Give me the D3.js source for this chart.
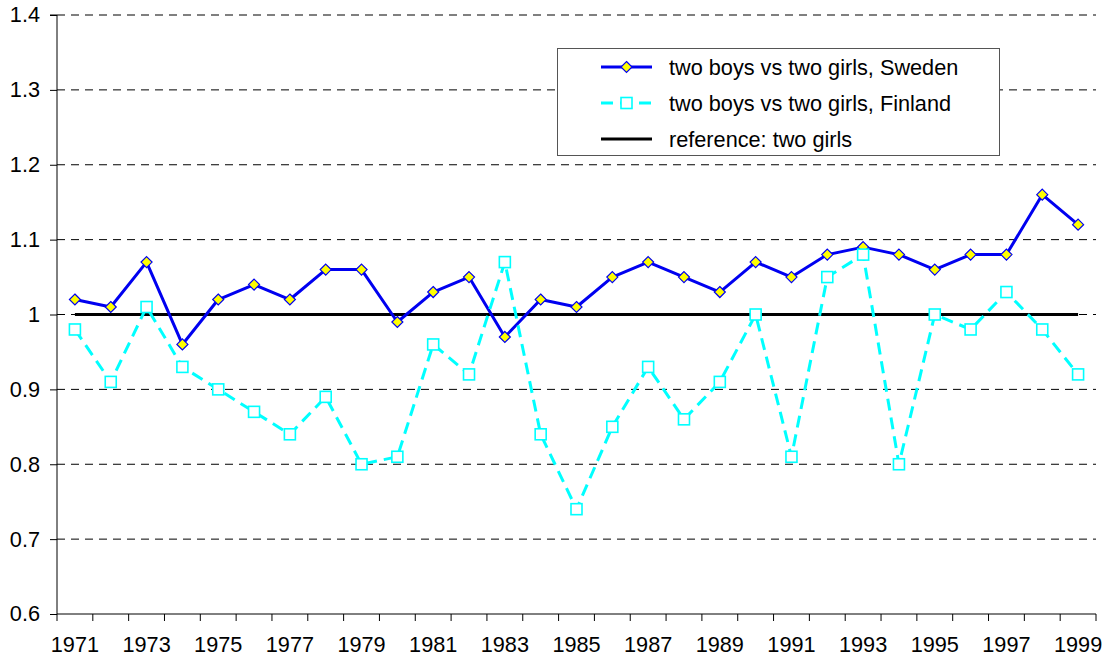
<!DOCTYPE html>
<html>
<head>
<meta charset="utf-8">
<script src="https://cdn.jsdelivr.net/npm/d3@7"></script>
<style>
  html,body{margin:0;padding:0;background:#fff;}
  svg{display:block;font-family:"Liberation Sans",Arial,sans-serif;}
</style>
</head>
<body>
<svg id="chart" width="1106" height="658"></svg>
<script>
/* ---------- data ---------- */
const years = d3.range(1971, 2000);
const sweden  = [1.02,1.01,1.07,0.96,1.02,1.04,1.02,1.06,1.06,0.99,1.03,1.05,0.97,1.02,1.01,
                 1.05,1.07,1.05,1.03,1.07,1.05,1.08,1.09,1.08,1.06,1.08,1.08,1.16,1.12];
const finland = [0.98,0.91,1.01,0.93,0.90,0.87,0.84,0.89,0.80,0.81,0.96,0.92,1.07,0.84,0.74,
                 0.85,0.93,0.86,0.91,1.00,0.81,1.05,1.08,0.80,1.00,0.98,1.03,0.98,0.92];
const reference = years.map(() => 1);
const yTicks = [0.6,0.7,0.8,0.9,1.0,1.1,1.2,1.3,1.4];
const labels = ["two boys vs two girls, Sweden","two boys vs two girls, Finland","reference: two girls"];

/* ---------- dims ---------- */
const L = 57, R = 1096, T = 15, B = 614;
const FS = 21.7;
const svg = d3.select("#chart");

const x = d3.scaleBand().domain(years).range([L, R]);
const y = d3.scaleLinear().domain([0.6, 1.4]).range([B, T]);
const cx = d => x(d) + x.bandwidth()/2;

/* ---------- grid ---------- */
svg.append("g").selectAll("line").data(yTicks.filter(v => v > 0.6)).join("line")
   .attr("x1", L).attr("x2", R)
   .attr("y1", d => y(d)).attr("y2", d => y(d))
   .attr("stroke", "#000").attr("stroke-width", 1)
   .attr("stroke-dasharray", "8,6");

/* ---------- axes ---------- */
const yAx = svg.append("g").attr("transform", `translate(${L},0)`)
   .call(d3.axisLeft(y).tickValues(yTicks).tickSize(7).tickPadding(10)
         .tickFormat(d => d === 1 ? "1" : d3.format(".1f")(d)));
yAx.select(".domain").attr("d", `M-7,${T}H0V${B}`).attr("stroke", "#000");
yAx.selectAll("text").attr("font-size", FS).attr("fill", "#000")
   .attr("font-family", "Liberation Sans, Arial, sans-serif");

const xAx = svg.append("g").attr("transform", `translate(0,${B})`)
   .call(d3.axisBottom(x).tickValues(years.filter((d,i) => i % 2 === 0))
         .tickSize(0).tickPadding(23));
xAx.select(".domain").attr("d", `M${L},0H${R}`).attr("stroke", "#000");
xAx.selectAll("text").attr("font-size", FS).attr("fill", "#000")
   .attr("font-family", "Liberation Sans, Arial, sans-serif");
xAx.selectAll(".bnd").data(d3.range(years.length + 1)).join("line")
   .attr("class", "bnd")
   .attr("x1", i => L + i * x.step()).attr("x2", i => L + i * x.step())
   .attr("y1", 0).attr("y2", 7).attr("stroke", "#000");

/* ---------- series ---------- */
const line = d3.line().x((d,i) => cx(years[i])).y(d => y(d));

svg.append("path").datum(reference).attr("d", line)
   .attr("fill", "none").attr("stroke", "#000").attr("stroke-width", 3);

svg.append("path").datum(sweden).attr("d", line)
   .attr("fill", "none").attr("stroke", "#0000f0").attr("stroke-width", 3)
   .attr("stroke-linejoin", "round");
const diamond = "M0,-5.5L5.5,0L0,5.5L-5.5,0Z";
svg.append("g").selectAll("path").data(sweden).join("path")
   .attr("transform", (d,i) => `translate(${cx(years[i])},${y(d)})`)
   .attr("d", diamond).attr("fill", "#ffff00").attr("stroke", "#0000f0").attr("stroke-width", 1.2);

svg.append("path").datum(finland).attr("d", line)
   .attr("fill", "none").attr("stroke", "#00ffff").attr("stroke-width", 3)
   .attr("stroke-dasharray", "12,7");
svg.append("g").selectAll("rect").data(finland).join("rect")
   .attr("x", (d,i) => cx(years[i]) - 5.5).attr("y", d => y(d) - 5.5)
   .attr("width", 11).attr("height", 11)
   .attr("fill", "#fff").attr("stroke", "#00ffff").attr("stroke-width", 1.6);

/* ---------- legend ---------- */
const lg = svg.append("g");
lg.append("rect").attr("x", 557.5).attr("y", 48.5).attr("width", 442).attr("height", 107)
  .attr("fill", "#fff").attr("stroke", "#555").attr("stroke-width", 1);
const rows = [67, 103, 139];
// Sweden
lg.append("line").attr("x1", 601).attr("x2", 652).attr("y1", rows[0]).attr("y2", rows[0])
  .attr("stroke", "#0000f0").attr("stroke-width", 3);
lg.append("path").attr("transform", `translate(626.5,${rows[0]})`).attr("d", diamond)
  .attr("fill", "#ffff00").attr("stroke", "#0000f0").attr("stroke-width", 1.2);
// Finland
lg.append("line").attr("x1", 601).attr("x2", 652).attr("y1", rows[1]).attr("y2", rows[1])
  .attr("stroke", "#00ffff").attr("stroke-width", 3).attr("stroke-dasharray", "12,7");
lg.append("rect").attr("x", 621).attr("y", rows[1] - 5.5).attr("width", 11).attr("height", 11)
  .attr("fill", "#fff").attr("stroke", "#00ffff").attr("stroke-width", 1.6);
// reference
lg.append("line").attr("x1", 601).attr("x2", 652).attr("y1", rows[2]).attr("y2", rows[2])
  .attr("stroke", "#000").attr("stroke-width", 3);
lg.selectAll("text").data(labels).join("text")
  .attr("x", 669).attr("y", (d,i) => rows[i]).attr("dy", "0.35em")
  .attr("font-size", FS).attr("fill", "#000").text(d => d);
</script>
</body>
</html>
